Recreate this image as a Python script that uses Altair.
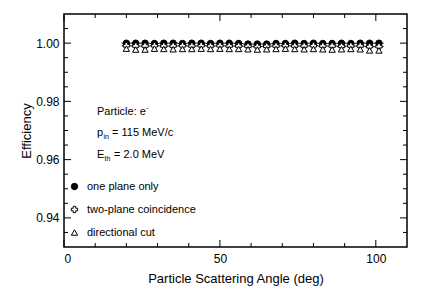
import altair as alt
import pandas as pd

# ---- data ----
angles = [20, 23, 26, 29, 32, 35, 38, 41, 44, 47, 50, 53, 56, 59,
          62, 65, 68, 71, 74, 77, 80, 83, 86, 89, 92, 95, 98, 101]
eff_one = [1.0000, 1.0000, 1.0000, 0.9999, 1.0000, 1.0000, 0.9999, 1.0000,
           1.0000, 0.9999, 1.0000, 1.0000, 0.9999, 0.9997, 0.9997, 0.9997,
           0.9999, 0.9999, 1.0000, 0.9999, 1.0000, 0.9999, 0.9999, 1.0000,
           0.9999, 1.0000, 1.0000, 1.0000]
eff_two = [0.9991, 0.9990, 0.9990, 0.9991, 0.9990, 0.9990, 0.9991, 0.9990,
           0.9991, 0.9990, 0.9991, 0.9990, 0.9990, 0.9989, 0.9988, 0.9989,
           0.9990, 0.9991, 0.9990, 0.9990, 0.9991, 0.9990, 0.9990, 0.9989,
           0.9990, 0.9990, 0.9988, 0.9988]
eff_dir = [0.9981, 0.9978, 0.9978, 0.9981, 0.9980, 0.9979, 0.9980, 0.9980,
           0.9981, 0.9980, 0.9981, 0.9980, 0.9980, 0.9979, 0.9978, 0.9979,
           0.9980, 0.9981, 0.9980, 0.9979, 0.9980, 0.9979, 0.9978, 0.9979,
           0.9980, 0.9979, 0.9975, 0.9975]
series_names = ["one plane only", "two-plane coincidence", "directional cut"]
bin_half_width = 1.5

x_major = [0, 50, 100]
x_minor = [10, 20, 30, 40, 60, 70, 80, 90]
y_major = [0.94, 0.96, 0.98, 1.00]
y_minor = [0.935, 0.945, 0.95, 0.955, 0.965, 0.97, 0.975, 0.985, 0.99, 0.995, 1.005]

rows = []
for name, vals in zip(series_names, [eff_one, eff_two, eff_dir]):
    for a, v in zip(angles, vals):
        rows.append({"angle": a, "eff": v, "series": name,
                     "lo": a - bin_half_width, "hi": a + bin_half_width})
df = pd.DataFrame(rows)

FONT = "Liberation Sans"
W, H = 343, 233

xscale = alt.Scale(domain=[0, 110], nice=False, zero=False)
yscale = alt.Scale(domain=[0.93, 1.01], nice=False, zero=False)

xaxis = alt.Axis(values=x_major, ticks=False, grid=False, domain=False,
                 labelFontSize=12, labelFont=FONT, labelColor="black", labelPadding=6,
                 title="Particle Scattering Angle (deg)", titleFont=FONT,
                 titleFontSize=13, titleFontWeight="normal", titleColor="black",
                 titleY=31, titleBaseline="middle")
yaxis = alt.Axis(values=y_major, format=".2f", ticks=False, grid=False, domain=False,
                 labelFontSize=12, labelFont=FONT, labelColor="black", labelPadding=5,
                 title="Efficiency", titleFont=FONT, titleFontSize=13,
                 titleFontWeight="normal", titleColor="black",
                 titleX=-38, titleY=H / 2, titleAngle=-90, titleAlign="center",
                 titleBaseline="middle")

def X(field):
    return alt.X(field, scale=xscale, axis=xaxis)

def Y(field):
    return alt.Y(field, scale=yscale, axis=yaxis)

err = alt.Chart(df[df.series != "directional cut"]).mark_rule(color="black", strokeWidth=1).encode(
    x=X("lo:Q"), x2="hi:Q", y=Y("eff:Q"),
)

leg = alt.Legend(title=None, orient="none", legendX=5, legendY=167,
                 labelFont=FONT, labelFontSize=11, labelColor="black",
                 rowPadding=11, symbolStrokeWidth=1,
                 labelOffset=7, symbolSize=40)
pts = alt.Chart(df).mark_point(filled=True, strokeWidth=1, size=40, opacity=1).encode(
    x=X("angle:Q"), y=Y("eff:Q"),
    shape=alt.Shape("series:N", scale=alt.Scale(domain=series_names,
                    range=["circle", "cross", "triangle-up"]), legend=leg),
    fill=alt.Fill("series:N", scale=alt.Scale(domain=series_names,
                  range=["black", "white", "white"]), legend=leg),
    stroke=alt.Stroke("series:N", scale=alt.Scale(domain=series_names,
                      range=["black", "black", "black"]), legend=leg),
)

def xticks(vals, top, length):
    d = pd.DataFrame({"angle": vals})
    if top:
        yv, y2v = 0, length
    else:
        yv, y2v = H, H - length
    return alt.Chart(d).mark_rule(color="black", strokeWidth=1).encode(
        x=X("angle:Q"), y=alt.value(yv), y2=alt.value(y2v))

def yticks(vals, right, length):
    d = pd.DataFrame({"eff": vals})
    if right:
        xv, x2v = W, W - length
    else:
        xv, x2v = 0, length
    return alt.Chart(d).mark_rule(color="black", strokeWidth=1).encode(
        y=Y("eff:Q"), x=alt.value(xv), x2=alt.value(x2v))

ticks = [xticks(x_major, False, 7), xticks(x_minor, False, 4),
         xticks(x_major, True, 7), xticks(x_minor, True, 4),
         yticks(y_major, False, 7), yticks(y_minor, False, 4),
         yticks(y_major, True, 7), yticks(y_minor, True, 4)]

def txt(s, x, y, size=11):
    return alt.Chart(pd.DataFrame({"t": [s]})).mark_text(
        align="left", baseline="middle", font=FONT, fontSize=size, color="black").encode(
        text="t:N", x=alt.value(x), y=alt.value(y))

tx0 = 33
annots = [
    txt("Particle: e", tx0, 98), txt("-", tx0 + 49, 94, 7),
    txt("p", tx0, 119), txt("in", tx0 + 6.5, 123, 7), txt("= 115 MeV/c", tx0 + 15, 119),
    txt("E", tx0, 141), txt("th", tx0 + 7.5, 145, 7), txt("= 2.0 MeV", tx0 + 17, 141),
]

chart = alt.layer(err, pts, *ticks, *annots).properties(
    width=W, height=H,
    autosize=alt.AutoSizeParams(type="none"),
    padding={"left": 56, "top": 6, "right": 14, "bottom": 44},
).configure(background="white",
            view=alt.ViewConfig(stroke="black", strokeWidth=1.5))

chart.save("out.html", embed_options={"renderer": "svg", "actions": False})
